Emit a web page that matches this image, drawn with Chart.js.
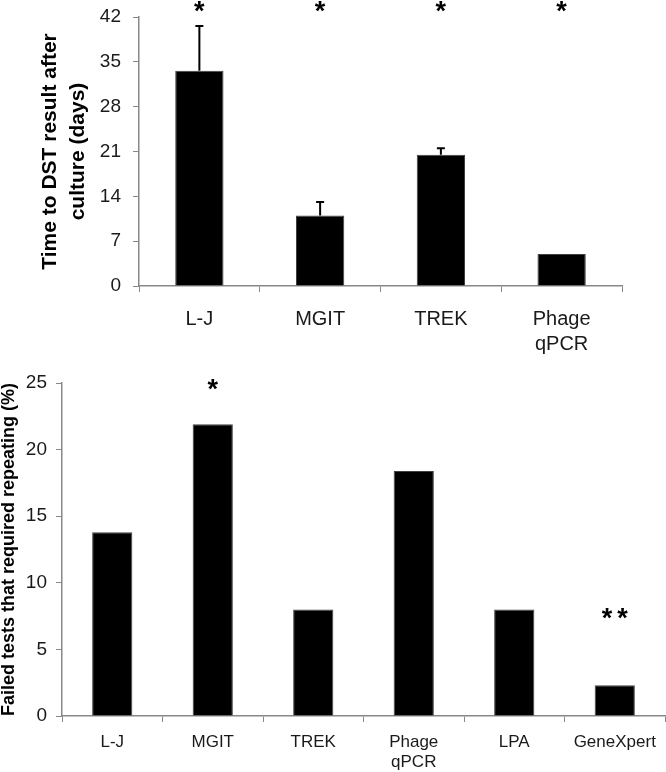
<!DOCTYPE html>
<html>
<head>
<meta charset="utf-8">
<script src="https://cdn.jsdelivr.net/npm/chart.js@4/dist/chart.umd.min.js"></script>
<style>
  body { margin: 0; background: #fff; }
  .box { position: absolute; left: 0; width: 666px; }
  #topBox { top: 0; height: 360px; }
  #bottomBox { top: 360px; height: 412px; }
</style>
</head>
<body>
<div class="box" id="topBox"><canvas id="topChart"></canvas></div>
<div class="box" id="bottomBox"><canvas id="bottomChart"></canvas></div>
<script>
// top panel: days to DST result
const topLabels = ["L-J", "MGIT", "TREK", ["Phage", "qPCR"]];
const topValues = [33.6, 11.0, 20.5, 5.0];
const topErrors = [7.0, 2.1, 1.0, 0];
const topStars = ["*", "*", "*", "*"];
const topStarLevel = [43.6, 43.6, 43.6, 43.6];
const topTicks = [0, 7, 14, 21, 28, 35, 42];

// bottom panel: failed tests
const bottomLabels = ["L-J", "MGIT", "TREK", ["Phage", "qPCR"], "LPA", "GeneXpert"];
const bottomValues = [13.8, 21.9, 8.0, 18.4, 8.0, 2.3];
const bottomStars = ["", "*", "", "", "", "**"];
const bottomStarLevel = [0, 24.9, 0, 0, 0, 7.7];
const bottomTicks = [0, 5, 10, 15, 20, 25];

const axisGray = "#888888";
const fontName = "'Liberation Sans', Arial, sans-serif";

// error bars, only the upper half like in the paper
const errorBarPlugin = {
    id: "errorBars",
    afterDatasetsDraw(chart, args, opts) {
        if (!opts.errors) return;
        const ctx = chart.ctx;
        const meta = chart.getDatasetMeta(0);
        const yScale = chart.scales.y;
        ctx.save();
        ctx.strokeStyle = "#000";
        ctx.lineWidth = 2;
        meta.data.forEach((bar, i) => {
            let err = opts.errors[i];
            if (!err) return;
            let y0 = yScale.getPixelForValue(chart.data.datasets[0].data[i]);
            let y1 = yScale.getPixelForValue(chart.data.datasets[0].data[i] + err);
            ctx.beginPath();
            ctx.moveTo(bar.x, y0);
            ctx.lineTo(bar.x, y1);
            ctx.moveTo(bar.x - 4, y1);
            ctx.lineTo(bar.x + 4, y1);
            ctx.stroke();
        });
        ctx.restore();
    }
};

// significance stars above bars
const starPlugin = {
    id: "stars",
    afterDatasetsDraw(chart, args, opts) {
        if (!opts.marks) return;
        const ctx = chart.ctx;
        const meta = chart.getDatasetMeta(0);
        const yScale = chart.scales.y;
        ctx.save();
        ctx.fillStyle = "#000";
        ctx.font = "bold " + opts.size + "px " + fontName;
        ctx.letterSpacing = "5px";
        ctx.textAlign = "center";
        ctx.textBaseline = "alphabetic";
        meta.data.forEach((bar, i) => {
            let txt = opts.marks[i];
            if (!txt) return;
            let m = ctx.measureText(txt);
            let cy = yScale.getPixelForValue(opts.levels[i]);
            let inkMid = (m.actualBoundingBoxAscent - m.actualBoundingBoxDescent) / 2;
            ctx.fillText(txt, bar.x + 2.5, cy + inkMid);
        });
        ctx.restore();
    }
};

function makeChart(id, labels, values, ticks, yTitle, cfg) {
    return new Chart(document.getElementById(id), {
        type: "bar",
        data: {
            labels: labels,
            datasets: [{
                data: values,
                backgroundColor: "#000000",
                borderColor: "#404040",
                borderWidth: 1,
                categoryPercentage: 1,
                barPercentage: 0.4
            }]
        },
        options: {
            responsive: true,
            maintainAspectRatio: false,
            animation: false,
            layout: { padding: cfg.padding },
            plugins: {
                legend: { display: false },
                tooltip: { enabled: false },
                errorBars: { errors: cfg.errors },
                stars: { marks: cfg.stars, levels: cfg.starLevels, size: cfg.starSize }
            },
            scales: {
                x: {
                    afterFit: (s) => { s.height = cfg.xHeight; },
                    grid: { offset: true, drawOnChartArea: false, tickLength: 6, color: axisGray },
                    border: { color: axisGray, width: 1.5 },
                    ticks: {
                        color: "#1a1a1a",
                        padding: cfg.xPad,
                        maxRotation: 0,
                        autoSkip: false,
                        font: { family: fontName, size: cfg.xFont, lineHeight: cfg.xLine }
                    }
                },
                y: {
                    min: 0,
                    max: ticks[ticks.length - 1],
                    afterFit: (s) => {
                        s.width = cfg.yWidth;
                        s.paddingTop = 0;
                        s.paddingBottom = 0;
                    },
                    afterBuildTicks: (s) => { s.ticks = ticks.map(v => ({ value: v })); },
                    grid: { drawOnChartArea: false, tickLength: 6, color: axisGray },
                    border: { color: axisGray, width: 1.5 },
                    ticks: {
                        color: "#1a1a1a",
                        padding: cfg.yPad,
                        font: { family: fontName, size: cfg.yFont }
                    },
                    title: {
                        display: true,
                        text: yTitle,
                        color: "#000",
                        padding: { top: cfg.titlePad, bottom: 0 },
                        font: { family: fontName, size: cfg.titleFont, weight: "bold", lineHeight: cfg.titleLine }
                    }
                }
            }
        },
        plugins: [errorBarPlugin, starPlugin]
    });
}

makeChart("topChart", topLabels, topValues, topTicks,
    ["Time to DST result after", "culture (days)"], {
        padding: { left: 0, right: 44, top: 17, bottom: 0 },
        errors: topErrors,
        stars: topStars,
        starLevels: topStarLevel,
        starSize: 27,
        xHeight: 74,
        xPad: 15,
        xFont: 20,
        xLine: 1.25,
        yWidth: 139,
        yPad: 12,
        yFont: 19,
        titlePad: 37,
        titleFont: 21,
        titleLine: 1.3
    });

makeChart("bottomChart", bottomLabels, bottomValues, bottomTicks,
    "Failed tests that required repeating (%)", {
        padding: { left: 0, right: 1, top: 23, bottom: 0 },
        errors: null,
        stars: bottomStars,
        starSize: 27,
        starLevels: bottomStarLevel,
        xHeight: 56,
        xPad: 10,
        xFont: 17,
        xLine: 1.2,
        yWidth: 62,
        yPad: 9,
        yFont: 19,
        titlePad: 0,
        titleFont: 18,
        titleLine: 1
    });
</script>
</body>
</html>
